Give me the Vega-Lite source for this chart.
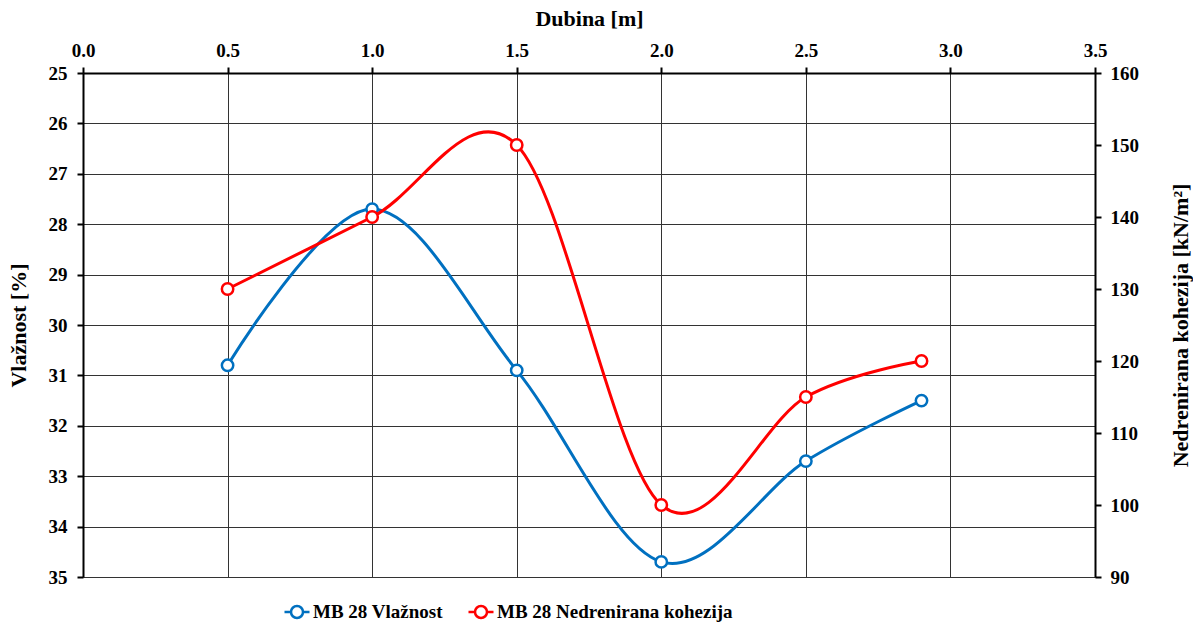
{
  "$schema": "https://vega.github.io/schema/vega-lite/v6.json",
  "width": 1012,
  "height": 504,
  "autosize": {"type": "none"},
  "padding": {"left": 83, "top": 73, "right": 98, "bottom": 47},
  "background": "white",
  "data": {
    "values": [
      {"dubina": 0.5, "serija": "MB 28 Vlažnost", "v": 30.8},
      {"dubina": 1.0, "serija": "MB 28 Vlažnost", "v": 27.7},
      {"dubina": 1.5, "serija": "MB 28 Vlažnost", "v": 30.9},
      {"dubina": 2.0, "serija": "MB 28 Vlažnost", "v": 34.7},
      {"dubina": 2.5, "serija": "MB 28 Vlažnost", "v": 32.7},
      {"dubina": 2.9, "serija": "MB 28 Vlažnost", "v": 31.5},
      {"dubina": 0.5, "serija": "MB 28 Nedrenirana kohezija", "v": 130},
      {"dubina": 1.0, "serija": "MB 28 Nedrenirana kohezija", "v": 140},
      {"dubina": 1.5, "serija": "MB 28 Nedrenirana kohezija", "v": 150},
      {"dubina": 2.0, "serija": "MB 28 Nedrenirana kohezija", "v": 100},
      {"dubina": 2.5, "serija": "MB 28 Nedrenirana kohezija", "v": 115},
      {"dubina": 2.9, "serija": "MB 28 Nedrenirana kohezija", "v": 120}
    ]
  },
  "encoding": {
    "x": {
      "field": "dubina",
      "type": "quantitative",
      "scale": {"domain": [0, 3.5], "nice": false, "zero": false},
      "axis": {
        "orient": "top",
        "title": "Dubina [m]",
        "values": [0, 0.5, 1, 1.5, 2, 2.5, 3, 3.5],
        "format": ".1f",
        "grid": true,
        "labelPadding": 7,
        "titleY": -55,
        "titleBaseline": "middle"
      }
    },
    "color": {
      "field": "serija",
      "type": "nominal",
      "scale": {
        "domain": ["MB 28 Vlažnost", "MB 28 Nedrenirana kohezija"],
        "range": ["#0070C0", "#FF0000"]
      },
      "legend": {
        "orient": "none",
        "legendX": 200,
        "legendY": 525,
        "direction": "horizontal",
        "title": null,
        "labelFont": "'Liberation Serif', 'Times New Roman', 'DejaVu Serif', serif",
        "labelFontSize": 19,
        "labelFontWeight": "bold",
        "labelColor": "black",
        "labelLimit": 0,
        "labelOffset": 2,
        "columnPadding": 20,
        "symbolType": "M-1,0L-0.48,0M0.48,0L1,0M0.48,0A0.48,0.48,0,1,1,-0.48,0A0.48,0.48,0,1,1,0.48,0",
        "symbolSize": 625,
        "symbolStrokeWidth": 2.5,
        "symbolFillColor": "white"
      }
    }
  },
  "layer": [
    {
      "transform": [{"filter": "datum.serija === 'MB 28 Vlažnost'"}],
      "mark": {
        "type": "line",
        "interpolate": "cardinal",
        "strokeWidth": 3,
        "point": {"filled": false, "fill": "white", "size": 130, "strokeWidth": 2.5}
      },
      "encoding": {
        "y": {
          "field": "v",
          "type": "quantitative",
          "scale": {"domain": [25, 35], "reverse": true, "nice": false, "zero": false},
          "axis": {
            "orient": "left",
            "title": "Vlažnost [%]",
            "values": [25, 26, 27, 28, 29, 30, 31, 32, 33, 34, 35],
            "grid": true,
            "labelPadding": 10,
            "titleX": -65,
            "titleY": 252,
            "titleAngle": -90,
            "titleBaseline": "middle"
          }
        }
      }
    },
    {
      "transform": [{"filter": "datum.serija === 'MB 28 Nedrenirana kohezija'"}],
      "mark": {
        "type": "line",
        "interpolate": "cardinal",
        "strokeWidth": 3,
        "point": {"filled": false, "fill": "white", "size": 130, "strokeWidth": 2.5}
      },
      "encoding": {
        "y": {
          "field": "v",
          "type": "quantitative",
          "scale": {"domain": [90, 160], "nice": false, "zero": false},
          "axis": {
            "orient": "right",
            "title": "Nedrenirana  kohezija [kN/m²]",
            "values": [90, 100, 110, 120, 130, 140, 150, 160],
            "grid": false,
            "labelPadding": 9,
            "titleX": 85,
            "titleY": 252,
            "titleAngle": -90,
            "titleBaseline": "middle"
          }
        }
      }
    }
  ],
  "resolve": {"scale": {"y": "independent"}},
  "config": {
    "view": {"stroke": null},
    "axis": {
      "labelFont": "'Liberation Serif', 'Times New Roman', 'DejaVu Serif', serif",
      "labelFontSize": 19,
      "labelFontWeight": "bold",
      "labelColor": "black",
      "titleFont": "'Liberation Serif', 'Times New Roman', 'DejaVu Serif', serif",
      "titleFontSize": 22,
      "titleFontWeight": "bold",
      "titleColor": "black",
      "domainColor": "black",
      "domainWidth": 2,
      "tickColor": "black",
      "tickWidth": 2,
      "tickSize": 6,
      "gridColor": "#333333",
      "gridWidth": 1,
      "gridOpacity": 1,
      "labelOverlap": false,
      "labelFlush": false
    }
  }
}
